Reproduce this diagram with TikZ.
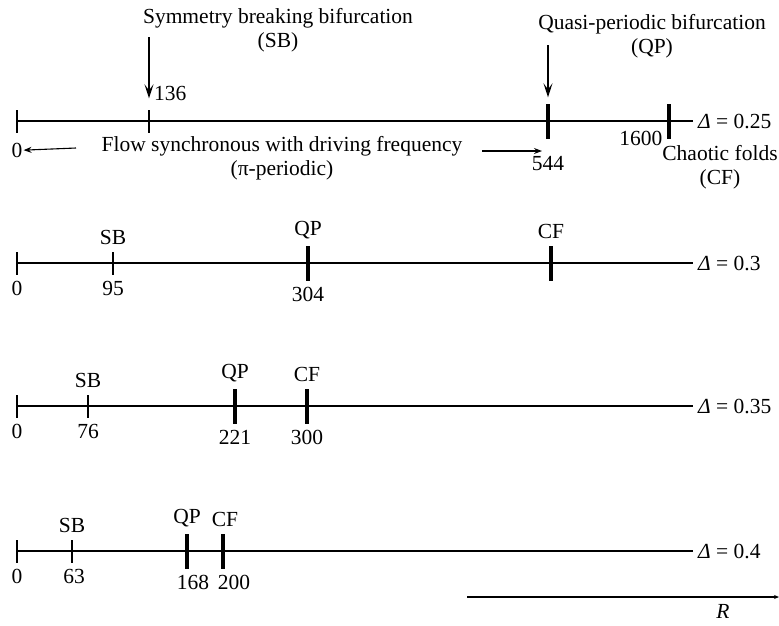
\documentclass[tikz,border=0pt]{standalone}
\usepackage{fontspec}
\setmainfont{Liberation Serif}
\usetikzlibrary{arrows.meta, positioning}

\begin{document}
\begin{tikzpicture}[
  x=1pt, y=-1pt,
  font=\fontsize{21.5}{23.5}\selectfont,
  lbl/.style={inner sep=1pt},
  axis/.style={line width=1.1pt},
  thintick/.style={fill, inner sep=0pt, minimum width=1.5pt, minimum height=23pt},
  thicktick/.style={fill, inner sep=0pt, minimum width=4.5pt, minimum height=35pt},
  varrow/.style={-{Stealth[length=14pt, width=9pt, inset=6pt]}, line width=1.3pt},
  harrow/.style={-{Stealth[length=8pt, width=6pt]}, line width=1.1pt}
]
\useasboundingbox (0,0) rectangle (779,625);

% row 1: Delta = 0.25, with the full names
\node[thintick] (z1) at (17,121) {};
\node[thintick] (sb1) at (149,121) {};
\node[thicktick] (qp1) at (548,121) {};
\node[thicktick] (cf1) at (669,121) {};
\coordinate (e1) at (693,121);
\draw[axis] (z1.center) -- (e1);
\node[lbl, right=4pt of e1] {{\itshape Δ} = 0.25};

\node[lbl, align=center] (sbname) at (278,30) {Symmetry breaking bifurcation\\(SB)};
\node[lbl, align=center] (qpname) at (652,36) {Quasi-periodic bifurcation\\(QP)};
\node[lbl, align=center] (cfname) at (720,167) {Chaotic folds\\(CF)};
\node[lbl, align=center] (flow) at (282,158) {Flow synchronous with driving frequency\\(π-periodic)};

\node[lbl, below=9pt of z1] (zero1) {0};
\node[lbl, above right=7pt and 4pt of sb1.north] (v136) {136};
\node[lbl, below=16pt of qp1] (v544) {544};
\node[lbl, left=3pt of cf1.south west] (v1600) {1600};

\draw[varrow, shorten <=7pt, shorten >=11pt] (sb1 |- sbname.center) -- (sb1.north);
\draw[varrow, shorten <=9pt, shorten >=6pt] (qp1 |- qpname.center) -- (qp1.north);
\coordinate (lfrom) at (76,148);
\draw[harrow] (lfrom) -- (zero1.east);
\coordinate (rfrom) at (482,151);
\draw[harrow, shorten >=6pt] (rfrom) -- (rfrom -| qp1.center);

% row 2: Delta = 0.3
\node[thintick] (z2) at (17,263) {};
\node[thintick] (sb2) at (113,263) {};
\node[thicktick] (qp2) at (308,263) {};
\node[thicktick] (cf2) at (551,263) {};
\coordinate (e2) at (693,263);
\draw[axis] (z2.center) -- (e2);
\node[lbl, right=4pt of e2] {{\itshape Δ} = 0.3};

\node[lbl, below=5pt of z2] {0};
\node[lbl, below=5pt of sb2] {95};
\node[lbl, above=5pt of sb2] {SB};
\node[lbl, above=5pt of qp2] {QP};
\node[lbl, below=5pt of qp2] {304};
\node[lbl, above=5pt of cf2] {CF};

% row 3: Delta = 0.35
\node[thintick] (z3) at (17,406) {};
\node[thintick] (sb3) at (88,406) {};
\node[thicktick] (qp3) at (235,406) {};
\node[thicktick] (cf3) at (307,406) {};
\coordinate (e3) at (693,406);
\draw[axis] (z3.center) -- (e3);
\node[lbl, right=4pt of e3] {{\itshape Δ} = 0.35};

\node[lbl, below=5pt of z3] {0};
\node[lbl, below=5pt of sb3] {76};
\node[lbl, above=5pt of sb3] {SB};
\node[lbl, above=5pt of qp3] {QP};
\node[lbl, below=5pt of qp3] {221};
\node[lbl, above=5pt of cf3] {CF};
\node[lbl, below=5pt of cf3] {300};

% row 4: Delta = 0.4
\node[thintick] (z4) at (17,551) {};
\node[thintick] (sb4) at (72,551) {};
\node[thicktick] (qp4) at (187,551) {};
\node[thicktick] (cf4) at (223,551) {};
\coordinate (e4) at (693,551);
\draw[axis] (z4.center) -- (e4);
\node[lbl, right=4pt of e4] {{\itshape Δ} = 0.4};

\node[lbl, below=5pt of z4] {0};
\node[lbl, below=5pt of sb4, xshift=2pt] {63};
\node[lbl, above=5pt of sb4] {SB};
\node[lbl, above=5pt of qp4] {QP};
\node[lbl, below=5pt of qp4, xshift=6pt] {168};
\node[lbl, above=5pt of cf4, xshift=2pt] {CF};
\node[lbl, below=5pt of cf4, xshift=11pt] {200};

% R axis
\coordinate (rstart) at (467,597);
\coordinate (rend) at (779,597);
\draw[-{Stealth[length=5pt, width=4pt]}, line width=1.1pt] (rstart) -- (rend);
\node[lbl] (rlabel) at (723,611) {\itshape R};
\end{tikzpicture}
\end{document}
